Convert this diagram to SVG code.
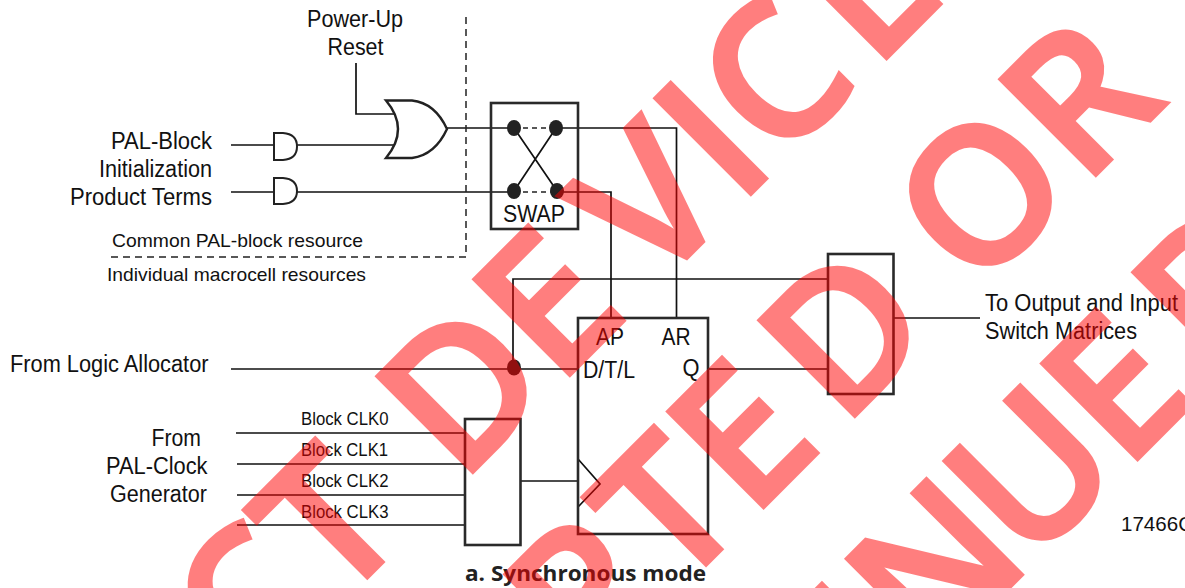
<svg xmlns="http://www.w3.org/2000/svg" width="1185" height="588" viewBox="0 0 1185 588">
<style>
text{font-family:"Liberation Sans",Arial,sans-serif;fill:#111}
.l{font-size:23px}
.m{font-size:19px}
.s{font-size:18px}
.w{fill:none;stroke:#111;stroke-width:1.7}
.b{fill:none;stroke:#2a2a2a;stroke-width:2.6}
.g{fill:#fff;stroke:#222;stroke-width:2}
.d{fill:none;stroke:#222;stroke-width:1.5;stroke-dasharray:7 5}
.dot{fill:#222}
#watermark{opacity:.5}
.wm{font-family:"Open Sans",sans-serif;font-weight:600;font-size:190px;fill:#f00;stroke:#f00;stroke-width:3.500}
</style>
<g id="connectors">
<path class="w" d="M356 63V114H395"/>
<path class="w" d="M231 145H274M297 145H397"/>
<path class="w" d="M231 192H274M297 192H514"/>
<path class="w" d="M447 128H514"/>
<path class="w" d="M556 128H676.500V318"/>
<path class="w" d="M557 192H611V318"/>
<path class="w" d="M514 128L557 191M556 128L514 191"/>
<path class="d" style="stroke-dasharray:5 4" d="M514 128H556M514 192H557"/>
<path class="d" d="M466 17V257H108"/>
<path class="w" d="M231 369H578"/>
<path class="w" d="M513 367V279H828"/>
<path class="w" d="M708 369H828"/>
<path class="w" d="M894 318H980"/>
<path class="w" d="M236 433H465M237 464H465M237 495H465M237 525H465"/>
<path class="w" d="M520 481H578"/>
<path class="w" d="M578 459L600 484L578 507"/>
</g>
<g id="or-gate"><path class="g" style="stroke-width:2.400" d="M386 100.500H412Q435 103 447 129Q435 155 412 158H386Q410 129 386 100.500Z"/></g>
<g id="and-gate-1"><path class="g" d="M274 133H283Q297 134 297 146.500Q297 159 283 160H274Z"/></g>
<g id="and-gate-2"><path class="g" d="M274 178H283Q297 179 297 191Q297 203 283 204H274Z"/></g>
<g id="swap"><rect class="b" x="491" y="103" width="87" height="126"/>
<ellipse class="dot" cx="514" cy="128" rx="7" ry="8"/><ellipse class="dot" cx="556" cy="128" rx="7" ry="8"/><ellipse class="dot" cx="514" cy="191" rx="7" ry="8"/><ellipse class="dot" cx="557" cy="191" rx="7" ry="8"/>
<text class="l" x="503" y="222" textLength="62" lengthAdjust="spacingAndGlyphs">SWAP</text></g>
<g id="flipflop"><rect class="b" x="578" y="318" width="130" height="216"/>
<text class="l" x="596" y="345" textLength="28" lengthAdjust="spacingAndGlyphs">AP</text>
<text class="l" x="661.500" y="345" textLength="29" lengthAdjust="spacingAndGlyphs">AR</text>
<text class="l" x="583" y="378" textLength="52" lengthAdjust="spacingAndGlyphs">D/T/L</text>
<text class="l" x="682.500" y="376" textLength="17" lengthAdjust="spacingAndGlyphs">Q</text></g>
<g id="mux-output"><rect class="b" x="828" y="254" width="65.500" height="140"/></g>
<g id="mux-clock"><rect class="b" x="465" y="419" width="55.500" height="126"/></g>
<g id="junction"><ellipse class="dot" cx="514" cy="367.500" rx="7" ry="8"/></g>
<g id="labels">
<text class="l" x="307" y="27" textLength="96" lengthAdjust="spacingAndGlyphs">Power-Up</text>
<text class="l" x="327.500" y="55" textLength="56" lengthAdjust="spacingAndGlyphs">Reset</text>
<text class="l" x="111" y="149" textLength="101" lengthAdjust="spacingAndGlyphs">PAL-Block</text>
<text class="l" x="99" y="177" textLength="113" lengthAdjust="spacingAndGlyphs">Initialization</text>
<text class="l" x="70" y="205" textLength="142" lengthAdjust="spacingAndGlyphs">Product Terms</text>
<text class="m" x="112" y="246.500" textLength="251" lengthAdjust="spacingAndGlyphs">Common PAL-block resource</text>
<text class="m" x="107" y="281" textLength="259" lengthAdjust="spacingAndGlyphs">Individual macrocell resources</text>
<text class="l" x="10" y="371.500" textLength="198.500" lengthAdjust="spacingAndGlyphs">From Logic Allocator</text>
<text class="l" x="151.500" y="445.500" textLength="49.500" lengthAdjust="spacingAndGlyphs">From</text>
<text class="l" x="106" y="473.500" textLength="101.500" lengthAdjust="spacingAndGlyphs">PAL-Clock</text>
<text class="l" x="110" y="501.500" textLength="97" lengthAdjust="spacingAndGlyphs">Generator</text>
<text class="s" x="301" y="425" textLength="87.500" lengthAdjust="spacingAndGlyphs">Block CLK0</text>
<text class="s" x="301" y="456" textLength="87" lengthAdjust="spacingAndGlyphs">Block CLK1</text>
<text class="s" x="301" y="487" textLength="87.500" lengthAdjust="spacingAndGlyphs">Block CLK2</text>
<text class="s" x="301" y="518" textLength="87.500" lengthAdjust="spacingAndGlyphs">Block CLK3</text>
<text class="l" x="985" y="311" textLength="193" lengthAdjust="spacingAndGlyphs">To Output and Input</text>
<text class="l" x="985" y="339" textLength="152" lengthAdjust="spacingAndGlyphs">Switch Matrices</text>
<text x="1121" y="531" style="font-family:'Liberation Sans',sans-serif;font-size:20px" textLength="72" lengthAdjust="spacingAndGlyphs">17466C</text>
<text x="465" y="581" style="font-family:'Open Sans',sans-serif;font-weight:700;font-size:22px;fill:#222" textLength="241" lengthAdjust="spacingAndGlyphs">a. Synchronous mode</text>
</g>
<g id="watermark">
<text class="wm" transform="translate(0 945) rotate(-45)" x="358 477 600 651 788 924 1044 1101 1236">CT DEVICE</text>
<text class="wm" transform="translate(0 1271) rotate(-45)" x="832 956 1062 1191 1340 1380 1532">PTED OR</text>
<text class="wm" transform="translate(0 1597) rotate(-45)" x="1258 1315 1454 1591 1720">INUED</text>
</g>
</svg>
